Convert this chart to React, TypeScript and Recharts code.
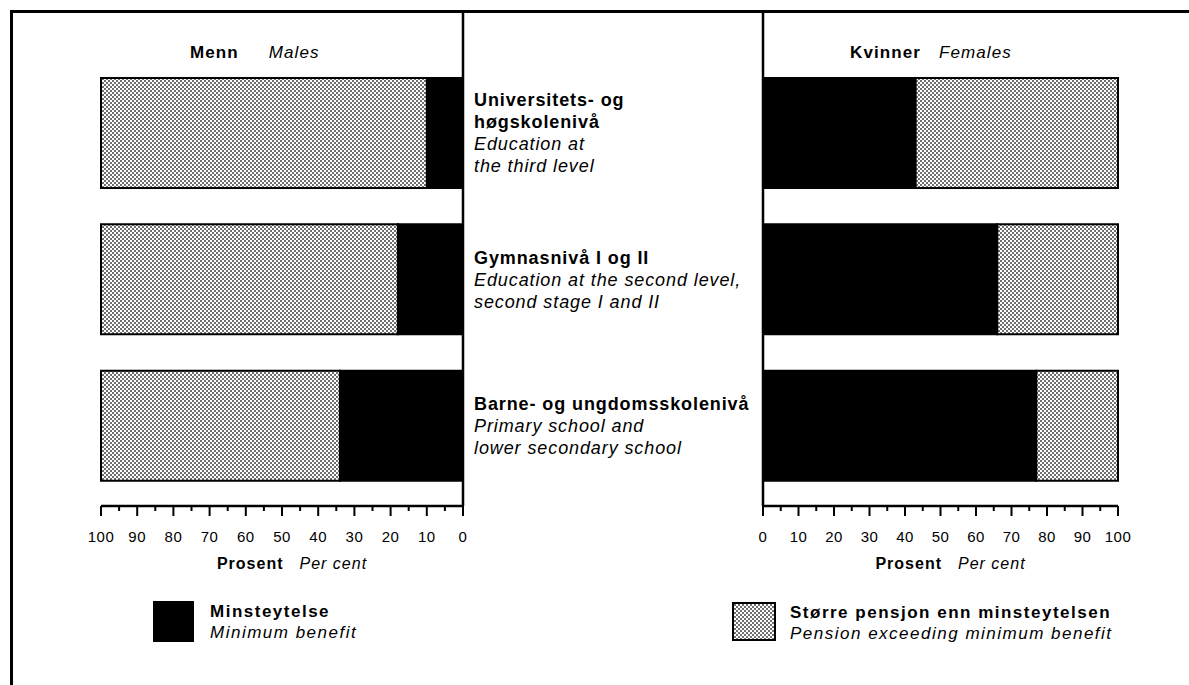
import React from 'react';
import { BarChart, Bar, XAxis, YAxis, Legend } from 'recharts';

// education levels, top to bottom
const categories = ['Universitets- og høgskolenivå', 'Gymnasnivå I og II', 'Barne- og ungdomsskolenivå'];
const labelNorwegian = [['Universitets- og', 'høgskolenivå'], ['Gymnasnivå I og II'], ['Barne- og ungdomsskolenivå']];
const labelEnglish = [
  ['Education at', 'the third level'],
  ['Education at the second level,', 'second stage I and II'],
  ['Primary school and', 'lower secondary school'],
];

// per cent of pensioners
const maleMinimum = [10, 18, 34];
const maleAbove = [90, 82, 66];
const femaleMinimum = [43, 66, 77];
const femaleAbove = [57, 34, 23];

const percentTicks = [0, 5, 10, 15, 20, 25, 30, 35, 40, 45, 50, 55, 60, 65, 70, 75, 80, 85, 90, 95, 100];

const seriesNames = ['Minsteytelse', 'Større pensjon enn minsteytelsen'];
const seriesNamesEn = ['Minimum benefit', 'Pension exceeding minimum benefit'];

const FONT = '"Liberation Sans", Arial, Helvetica, sans-serif';
const DOTS = 'url(#dots)';

const maleData = categories.map((c, i) => ({ category: c, min: maleMinimum[i], above: maleAbove[i] }));
const femaleData = categories.map((c, i) => ({ category: c, min: femaleMinimum[i], above: femaleAbove[i] }));

const PercentTick = (props: any) => {
  const { x, y, payload } = props;
  const major = payload.value % 10 === 0;
  return (
    <g>
      <line x1={x} x2={x} y1={y} y2={y + (major ? 10 : 5)} stroke="#000" strokeWidth={2} />
      {major && (
        <text x={x} y={y + 36} textAnchor="middle" fontFamily={FONT} fontSize={15} letterSpacing={0.5} fill="#000">
          {payload.value}
        </text>
      )}
    </g>
  );
};

const CategoryTick = (props: any) => {
  const { x, y, payload } = props;
  const i = categories.indexOf(payload.value);
  const lines = [
    ...labelNorwegian[i].map((t) => ({ t, bold: true })),
    ...labelEnglish[i].map((t) => ({ t, bold: false })),
  ];
  const lh = 22;
  const top = y - ((lines.length - 1) * lh) / 2 + 6;
  return (
    <text fontFamily={FONT} fontSize={18} letterSpacing={0.9} fill="#000">
      {lines.map((l, k) => (
        <tspan
          key={k}
          x={x}
          y={top + k * lh}
          fontWeight={l.bold ? 'bold' : 'normal'}
          fontStyle={l.bold ? 'normal' : 'italic'}
        >
          {l.t}
        </tspan>
      ))}
    </text>
  );
};

const AxisTitle = (props: any) => {
  const { x, width } = props.viewBox;
  const cx = x + width / 2 + 10;
  return (
    <text x={cx} y={569} textAnchor="middle" fontFamily={FONT} fontSize={16} letterSpacing={1} fill="#000">
      <tspan fontWeight="bold">Prosent</tspan>
      <tspan dx={16} fontStyle="italic">Per cent</tspan>
    </text>
  );
};

const LegendItem = ({ payload, seriesKey }: any) => {
  const entry = (payload || []).find((p: any) => p.dataKey === seriesKey);
  if (!entry) return null;
  const idx = seriesNames.indexOf(entry.value);
  const patterned = seriesKey === 'above';
  return (
    <div style={{ display: 'flex', alignItems: 'flex-start', fontFamily: FONT, fontSize: 17, letterSpacing: 1.5, lineHeight: '21px', color: '#000' }}>
      <svg width={patterned ? 44 : 41} height={patterned ? 39 : 41} style={{ flex: 'none' }}>
        <rect
          x={1}
          y={1}
          width={patterned ? 42 : 39}
          height={patterned ? 37 : 39}
          fill={patterned ? DOTS : '#000'}
          stroke="#000"
          strokeWidth={2}
        />
      </svg>
      <div style={{ marginLeft: patterned ? 14 : 16, whiteSpace: 'nowrap' }}>
        <div style={{ fontWeight: 'bold' }}>{entry.value}</div>
        <div style={{ fontStyle: 'italic' }}>{seriesNamesEn[idx]}</div>
      </div>
    </div>
  );
};

const header = (left: number, no: string, en: string, gap: number) => (
  <div
    style={{
      position: 'absolute',
      left,
      top: 43,
      fontFamily: FONT,
      fontSize: 17,
      letterSpacing: 1.1,
      lineHeight: '20px',
      whiteSpace: 'nowrap',
    }}
  >
    <span style={{ fontWeight: 'bold' }}>{no}</span>
    <span style={{ fontStyle: 'italic', marginLeft: gap }}>{en}</span>
  </div>
);

export default function App() {
  return (
    <div style={{ position: 'absolute', left: 0, top: 0, width: 1189, height: 685, background: '#fff', overflow: 'hidden' }}>
      <svg width={0} height={0} style={{ position: 'absolute' }}>
        <defs>
          <pattern id="dots" width={4} height={4} patternUnits="userSpaceOnUse">
            <rect width={4} height={4} fill="#fff" />
            <circle cx={1} cy={1} r={0.95} fill="#333" />
            <circle cx={3} cy={3} r={0.95} fill="#333" />
          </pattern>
        </defs>
      </svg>

      {/* frame */}
      <div style={{ position: 'absolute', left: 10, top: 10, width: 1179, height: 675, borderTop: '3px solid #000', borderLeft: '3px solid #000' }} />

      {header(190, 'Menn', 'Males', 30)}
      {header(850, 'Kvinner', 'Females', 18)}

      <div style={{ position: 'absolute', left: 0, top: 0 }}>
        <BarChart
          width={765}
          height={685}
          data={maleData}
          layout="vertical"
          margin={{ top: 12, right: 0, bottom: 139, left: 101 }}
        >
          <XAxis
            type="number"
            domain={[0, 100]}
            ticks={percentTicks}
            reversed
            interval={0}
            height={40}
            tickSize={0}
            tickMargin={0}
            tickLine={false}
            axisLine={{ stroke: '#000', strokeWidth: 2.5 }}
            tick={<PercentTick />}
            label={{ content: (p: any) => <AxisTitle {...p} /> }}
          />
          <YAxis
            type="category"
            dataKey="category"
            orientation="right"
            width={302}
            padding={{ top: 48, bottom: 7 }}
            interval={0}
            tickSize={0}
            tickMargin={11}
            tickLine={false}
            axisLine={{ stroke: '#000', strokeWidth: 2.5 }}
            tick={<CategoryTick />}
          />
          <Bar dataKey="min" name={seriesNames[0]} stackId="s" fill="#000" stroke="#000" strokeWidth={2} barSize={110} isAnimationActive={false} />
          <Bar dataKey="above" name={seriesNames[1]} stackId="s" fill={DOTS} stroke="#000" strokeWidth={2} barSize={110} isAnimationActive={false} />
          <Legend
            layout="horizontal"
            verticalAlign="middle"
            align="center"
            wrapperStyle={{ left: 153, top: 601, width: 320, height: 45 }}
            content={(p: any) => <LegendItem payload={p.payload} seriesKey="min" />}
          />
        </BarChart>
      </div>

      <div style={{ position: 'absolute', left: 700, top: 0 }}>
        <BarChart
          width={480}
          height={685}
          data={femaleData}
          layout="vertical"
          margin={{ top: 12, right: 62, bottom: 139, left: 62 }}
        >
          <XAxis
            type="number"
            domain={[0, 100]}
            ticks={percentTicks}
            interval={0}
            height={40}
            tickSize={0}
            tickMargin={0}
            tickLine={false}
            axisLine={{ stroke: '#000', strokeWidth: 2.5 }}
            tick={<PercentTick />}
            label={{ content: (p: any) => <AxisTitle {...p} /> }}
          />
          <YAxis
            type="category"
            dataKey="category"
            orientation="left"
            width={1}
            padding={{ top: 48, bottom: 7 }}
            tick={false}
            tickLine={false}
            axisLine={{ stroke: '#000', strokeWidth: 2.5 }}
          />
          <Bar dataKey="min" name={seriesNames[0]} stackId="s" fill="#000" stroke="#000" strokeWidth={2} barSize={110} isAnimationActive={false} />
          <Bar dataKey="above" name={seriesNames[1]} stackId="s" fill={DOTS} stroke="#000" strokeWidth={2} barSize={110} isAnimationActive={false} />
          <Legend
            layout="horizontal"
            verticalAlign="middle"
            align="center"
            wrapperStyle={{ left: 32, top: 602, width: 450, height: 45 }}
            content={(p: any) => <LegendItem payload={p.payload} seriesKey="above" />}
          />
        </BarChart>
      </div>
    </div>
  );
}
